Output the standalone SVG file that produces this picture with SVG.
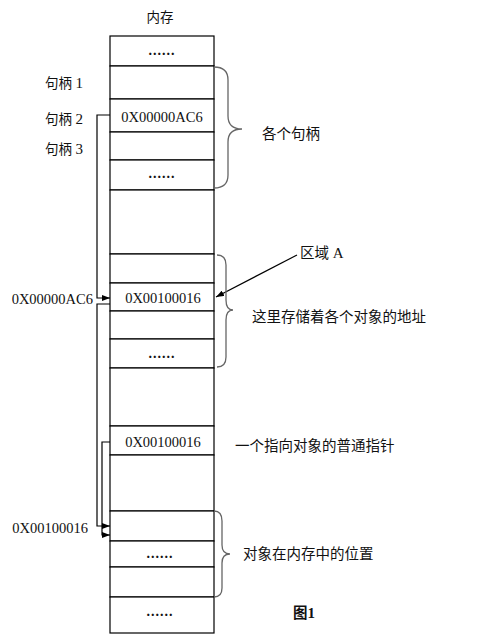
<svg xmlns="http://www.w3.org/2000/svg" width="481" height="640" viewBox="0 0 481 640">
<style>
.cell{fill:#fff;stroke:#000;stroke-width:1.2}
.hex{font-family:"Liberation Serif",serif;font-size:14.5px;fill:#111;dominant-baseline:central}
.dots{font-family:"Liberation Serif",serif;font-size:14px;font-weight:bold;letter-spacing:1px;fill:#111;text-anchor:middle;dominant-baseline:central}
.cjk{font-family:"Liberation Serif","Noto Sans CJK SC",sans-serif;font-size:13.5px;fill:#111}
.num{font-size:15px}
.lab{font-family:"Noto Sans CJK SC",sans-serif;font-size:14.5px;fill:#111;dominant-baseline:central}
.labs{font-family:"Liberation Serif","Noto Sans CJK SC",sans-serif;font-size:14.5px;fill:#111}
.conn{fill:none;stroke:#000;stroke-width:1.2}
.brace{fill:none;stroke:#666;stroke-width:1.3}
</style>
<defs>
<marker id="ah" viewBox="0 0 8 6" refX="8" refY="3" markerWidth="8" markerHeight="6" markerUnits="userSpaceOnUse" orient="auto">
<path d="M0,0 L8,3 L0,6 Z" fill="#000"/>
</marker>
</defs>
<rect width="481" height="640" fill="#fff"/>
<text class="cjk" x="160" y="22" text-anchor="middle">内存</text>
<g id="cell1"><rect class="cell" x="110" y="36" width="104" height="30"/><text class="dots" x="162" y="50">......</text></g>
<g id="cell2"><rect class="cell" x="110" y="66" width="104" height="33"/></g>
<g id="cell3"><rect class="cell" x="110" y="99" width="104" height="33"/><text class="hex" x="162" y="117" text-anchor="middle">0X00000AC6</text></g>
<g id="cell4"><rect class="cell" x="110" y="132" width="104" height="28"/></g>
<g id="cell5"><rect class="cell" x="110" y="160" width="104" height="30"/><text class="dots" x="162" y="173">......</text></g>
<g id="cell6"><rect class="cell" x="110" y="190" width="104" height="64"/></g>
<g id="cell7"><rect class="cell" x="110" y="254" width="104" height="29"/></g>
<g id="cell8"><rect class="cell" x="110" y="283" width="104" height="28"/><text class="hex" x="163" y="298" text-anchor="middle">0X00100016</text></g>
<g id="cell9"><rect class="cell" x="110" y="311" width="104" height="28"/></g>
<g id="cell10"><rect class="cell" x="110" y="339" width="104" height="29"/><text class="dots" x="162" y="353">......</text></g>
<g id="cell11"><rect class="cell" x="110" y="368" width="104" height="58"/></g>
<g id="cell12"><rect class="cell" x="110" y="426" width="104" height="29"/><text class="hex" x="163" y="442" text-anchor="middle">0X00100016</text></g>
<g id="cell13"><rect class="cell" x="110" y="455" width="104" height="56"/></g>
<g id="cell14"><rect class="cell" x="110" y="511" width="104" height="30"/></g>
<g id="cell15"><rect class="cell" x="110" y="541" width="104" height="26"/><text class="dots" x="160" y="553">......</text></g>
<g id="cell16"><rect class="cell" x="110" y="567" width="104" height="30"/></g>
<g id="cell17"><rect class="cell" x="110" y="597" width="104" height="36"/><text class="dots" x="160" y="611">......</text></g>
<g id="labels">
<text class="cjk" x="45" y="88">句柄 <tspan class="num">1</tspan></text>
<text class="cjk" x="45" y="124">句柄 <tspan class="num">2</tspan></text>
<text class="cjk" x="45" y="154">句柄 <tspan class="num">3</tspan></text>
<text class="hex" x="93" y="299" text-anchor="end">0X00000AC6</text>
<text class="hex" x="88" y="528" text-anchor="end">0X00100016</text>
<text class="lab" x="262" y="132">各个句柄</text>
<text class="labs" x="300" y="258">区域 <tspan font-size="15">A</tspan></text>
<text class="lab" x="252" y="315">这里存储着各个对象的地址</text>
<text class="lab" x="235" y="444">一个指向对象的普通指针</text>
<text class="lab" x="243" y="552">对象在内存中的位置</text>
<text class="labs" x="293" y="618" font-weight="bold">图<tspan font-size="15">1</tspan></text>
</g>
<g id="connectors">
<path class="conn" d="M110,115 H97 V298 H110" marker-end="url(#ah)"/>
<path class="conn" d="M110,304 H97 V526 H110" marker-end="url(#ah)"/>
<path class="conn" d="M110,442 H102 V535 H110" marker-end="url(#ah)"/>
<path class="conn" d="M297,255 L216,297" marker-end="url(#ah)"/>
<path class="brace" d="M214,67 Q228,67 228,80 V116 Q228,129 242,129 Q228,129 228,142 V175 Q228,188 214,188"/>
<path class="brace" d="M217,255 Q226,255 226,265 V300 Q226,310 233,310 Q226,310 226,320 V357 Q226,367 217,367"/>
<path class="brace" d="M214,511 Q222,511 222,521 V545 Q222,554 230,554 Q222,554 222,563 V588 Q222,597 214,597"/>
</g>
</svg>
